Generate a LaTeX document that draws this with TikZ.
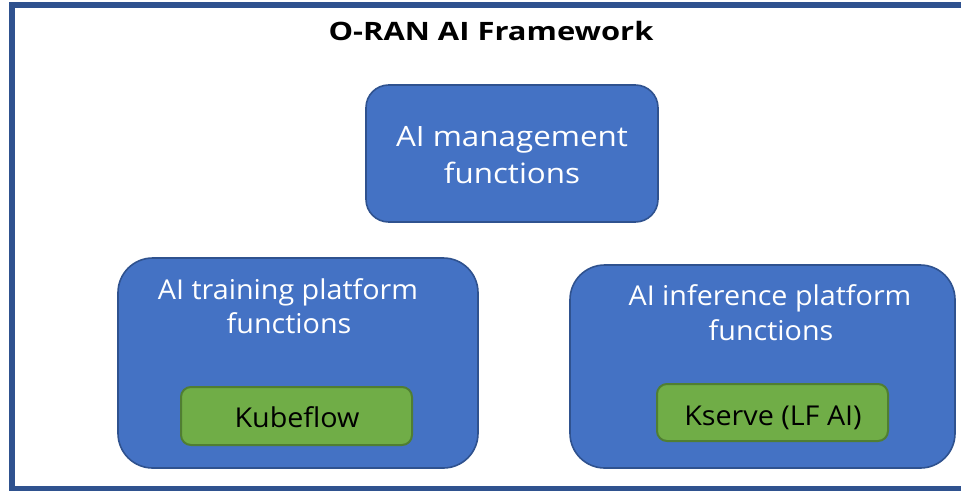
\documentclass[tikz,border=0pt]{standalone}
\usepackage{fontspec}
\setmainfont{Open Sans}
\newfontfamily\bodyf[FakeStretch=1.05]{Open Sans}
\newfontfamily\mgmtf[FakeStretch=1.12]{Open Sans}
\newfontfamily\titlef[FakeStretch=1.22]{Open Sans}
\definecolor{boxblue}{HTML}{4472C4}
\definecolor{boxedge}{HTML}{2F528F}
\definecolor{framec}{HTML}{2F528F}
\definecolor{boxgreen}{HTML}{70AD47}
\definecolor{greenedge}{HTML}{507E32}
\begin{document}
\begin{tikzpicture}[x=0.75pt,y=-0.75pt,
  bluebox/.style={draw=boxedge,fill=boxblue,line width=1.2pt},
  greenbox/.style={draw=greenedge,fill=boxgreen,line width=1.5pt,rounded corners=7.5pt},
  wtext/.style={text=white,font=\bodyf\fontsize{20.5}{24}\selectfont,anchor=base,inner sep=0pt},
  mtext/.style={text=white,font=\mgmtf\fontsize{21}{24}\selectfont,anchor=base,inner sep=0pt},
  btext/.style={text=black,font=\bodyf\fontsize{20.5}{24}\selectfont,anchor=base,inner sep=0pt},
  ttext/.style={text=black,font=\titlef\bfseries\fontsize{19}{22}\selectfont,anchor=base,inner sep=0pt}]
\useasboundingbox (0,0) rectangle (961,490);
\draw[framec,line width=4.5pt] (11.5,5.3) rectangle (990,489);
\node[ttext] (title) at (491,40) {O-RAN AI Framework};
% management
\draw[bluebox,rounded corners=17pt] (366,85) rectangle (658,222);
\node[mtext] (m1) at (512,146) {AI management};
\node[mtext] (m2) at (512,183) {functions};
% training
\draw[bluebox,rounded corners=26pt] (118,258) rectangle (478,468);
\node[wtext] (t1) at (288,299) {AI training platform};
\node[wtext] (t2) at (289,333) {functions};
\draw[greenbox] (181,387) rectangle (412,445);
\node[btext] (kf) at (297,427) {Kubeflow};
% inference
\draw[bluebox,rounded corners=26pt] (570,265) rectangle (955,468);
\node[wtext] (i1) at (770,305) {AI inference platform};
\node[wtext] (i2) at (771,340) {functions};
\draw[greenbox] (657,384) rectangle (888,441);
\node[btext] (ks) at (773,425) {Kserve (LF AI)};
\end{tikzpicture}
\end{document}
